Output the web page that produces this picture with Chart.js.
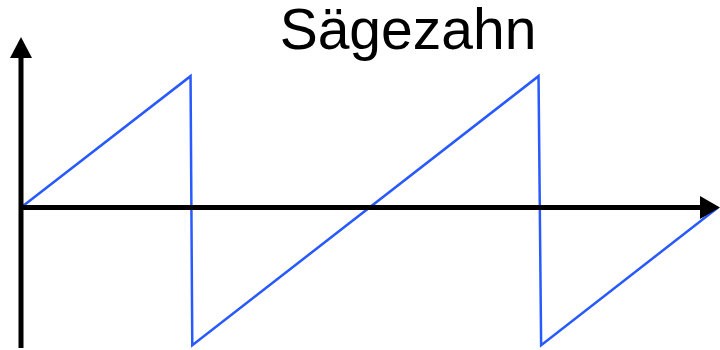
<html>
<head>
<meta charset="utf-8">
<script src="https://cdn.jsdelivr.net/npm/chart.js@4.4.1/dist/chart.umd.min.js"></script>
<style>
  body { margin: 0; background: white; }
  canvas { display: block; }
</style>
</head>
<body>
<canvas id="saw" width="720" height="350"></canvas>
<script>
  // sawtooth: time (x) and amplitude (y)
  var sawTime  = [0, 0.973, 0.983, 2.97, 2.985, 4.0];
  var sawValue = [0, 0.98, -1.03, 0.98, -1.03, 0];
  var titleText = "Sägezahn";

  var xMin = 0, xMax = 4.0;
  var yMin = -1.05, yMax = 1.25;

  var points = sawTime.map(function (t, i) {
    return { x: t, y: sawValue[i] };
  });

  // black axes with arrow heads, drawn on top of the line
  var arrowAxes = {
    id: 'arrowAxes',
    afterDatasetsDraw: function (chart) {
      var ctx = chart.ctx;
      var area = chart.chartArea;
      var x0 = chart.scales.x.getPixelForValue(0);
      var y0 = chart.scales.y.getPixelForValue(0);
      ctx.save();
      ctx.strokeStyle = 'black';
      ctx.fillStyle = 'black';
      ctx.lineWidth = 5;
      ctx.beginPath();
      ctx.moveTo(x0, area.bottom);
      ctx.lineTo(x0, area.top + 10);
      ctx.moveTo(x0 - 2, y0);
      ctx.lineTo(area.right - 10, y0);
      ctx.stroke();
      // up arrow
      ctx.beginPath();
      ctx.moveTo(x0, area.top - 3);
      ctx.lineTo(x0 - 11, area.top + 18);
      ctx.lineTo(x0 + 11, area.top + 18);
      ctx.closePath();
      ctx.fill();
      // right arrow
      ctx.beginPath();
      ctx.moveTo(area.right + 2, y0);
      ctx.lineTo(area.right - 18, y0 - 11.5);
      ctx.lineTo(area.right - 18, y0 + 11.5);
      ctx.closePath();
      ctx.fill();
      ctx.restore();
    }
  };

  var bigTitle = {
    id: 'bigTitle',
    afterDraw: function (chart) {
      var ctx = chart.ctx;
      ctx.save();
      ctx.font = '57px "Liberation Sans", Arial, sans-serif';
      ctx.fillStyle = 'black';
      ctx.textAlign = 'center';
      ctx.textBaseline = 'alphabetic';
      ctx.fillText(titleText, 408, 49);
      ctx.restore();
    }
  };

  var sawChart = new Chart(document.getElementById('saw'), {
    type: 'line',
    data: {
      datasets: [{
        data: points,
        borderColor: 'rgb(40,90,255)',
        borderWidth: 2.5,
        pointRadius: 0,
        tension: 0,
        fill: false,
        clip: false
      }]
    },
    options: {
      responsive: false,
      animation: false,
      layout: { padding: { left: 21, right: 2, top: 40, bottom: 2 } },
      plugins: {
        legend: { display: false },
        title: { display: false },
        tooltip: { enabled: false }
      },
      scales: {
        x: { type: 'linear', min: xMin, max: xMax, display: false },
        y: { type: 'linear', min: yMin, max: yMax, display: false }
      }
    },
    plugins: [arrowAxes, bigTitle]
  });
</script>
</body>
</html>
